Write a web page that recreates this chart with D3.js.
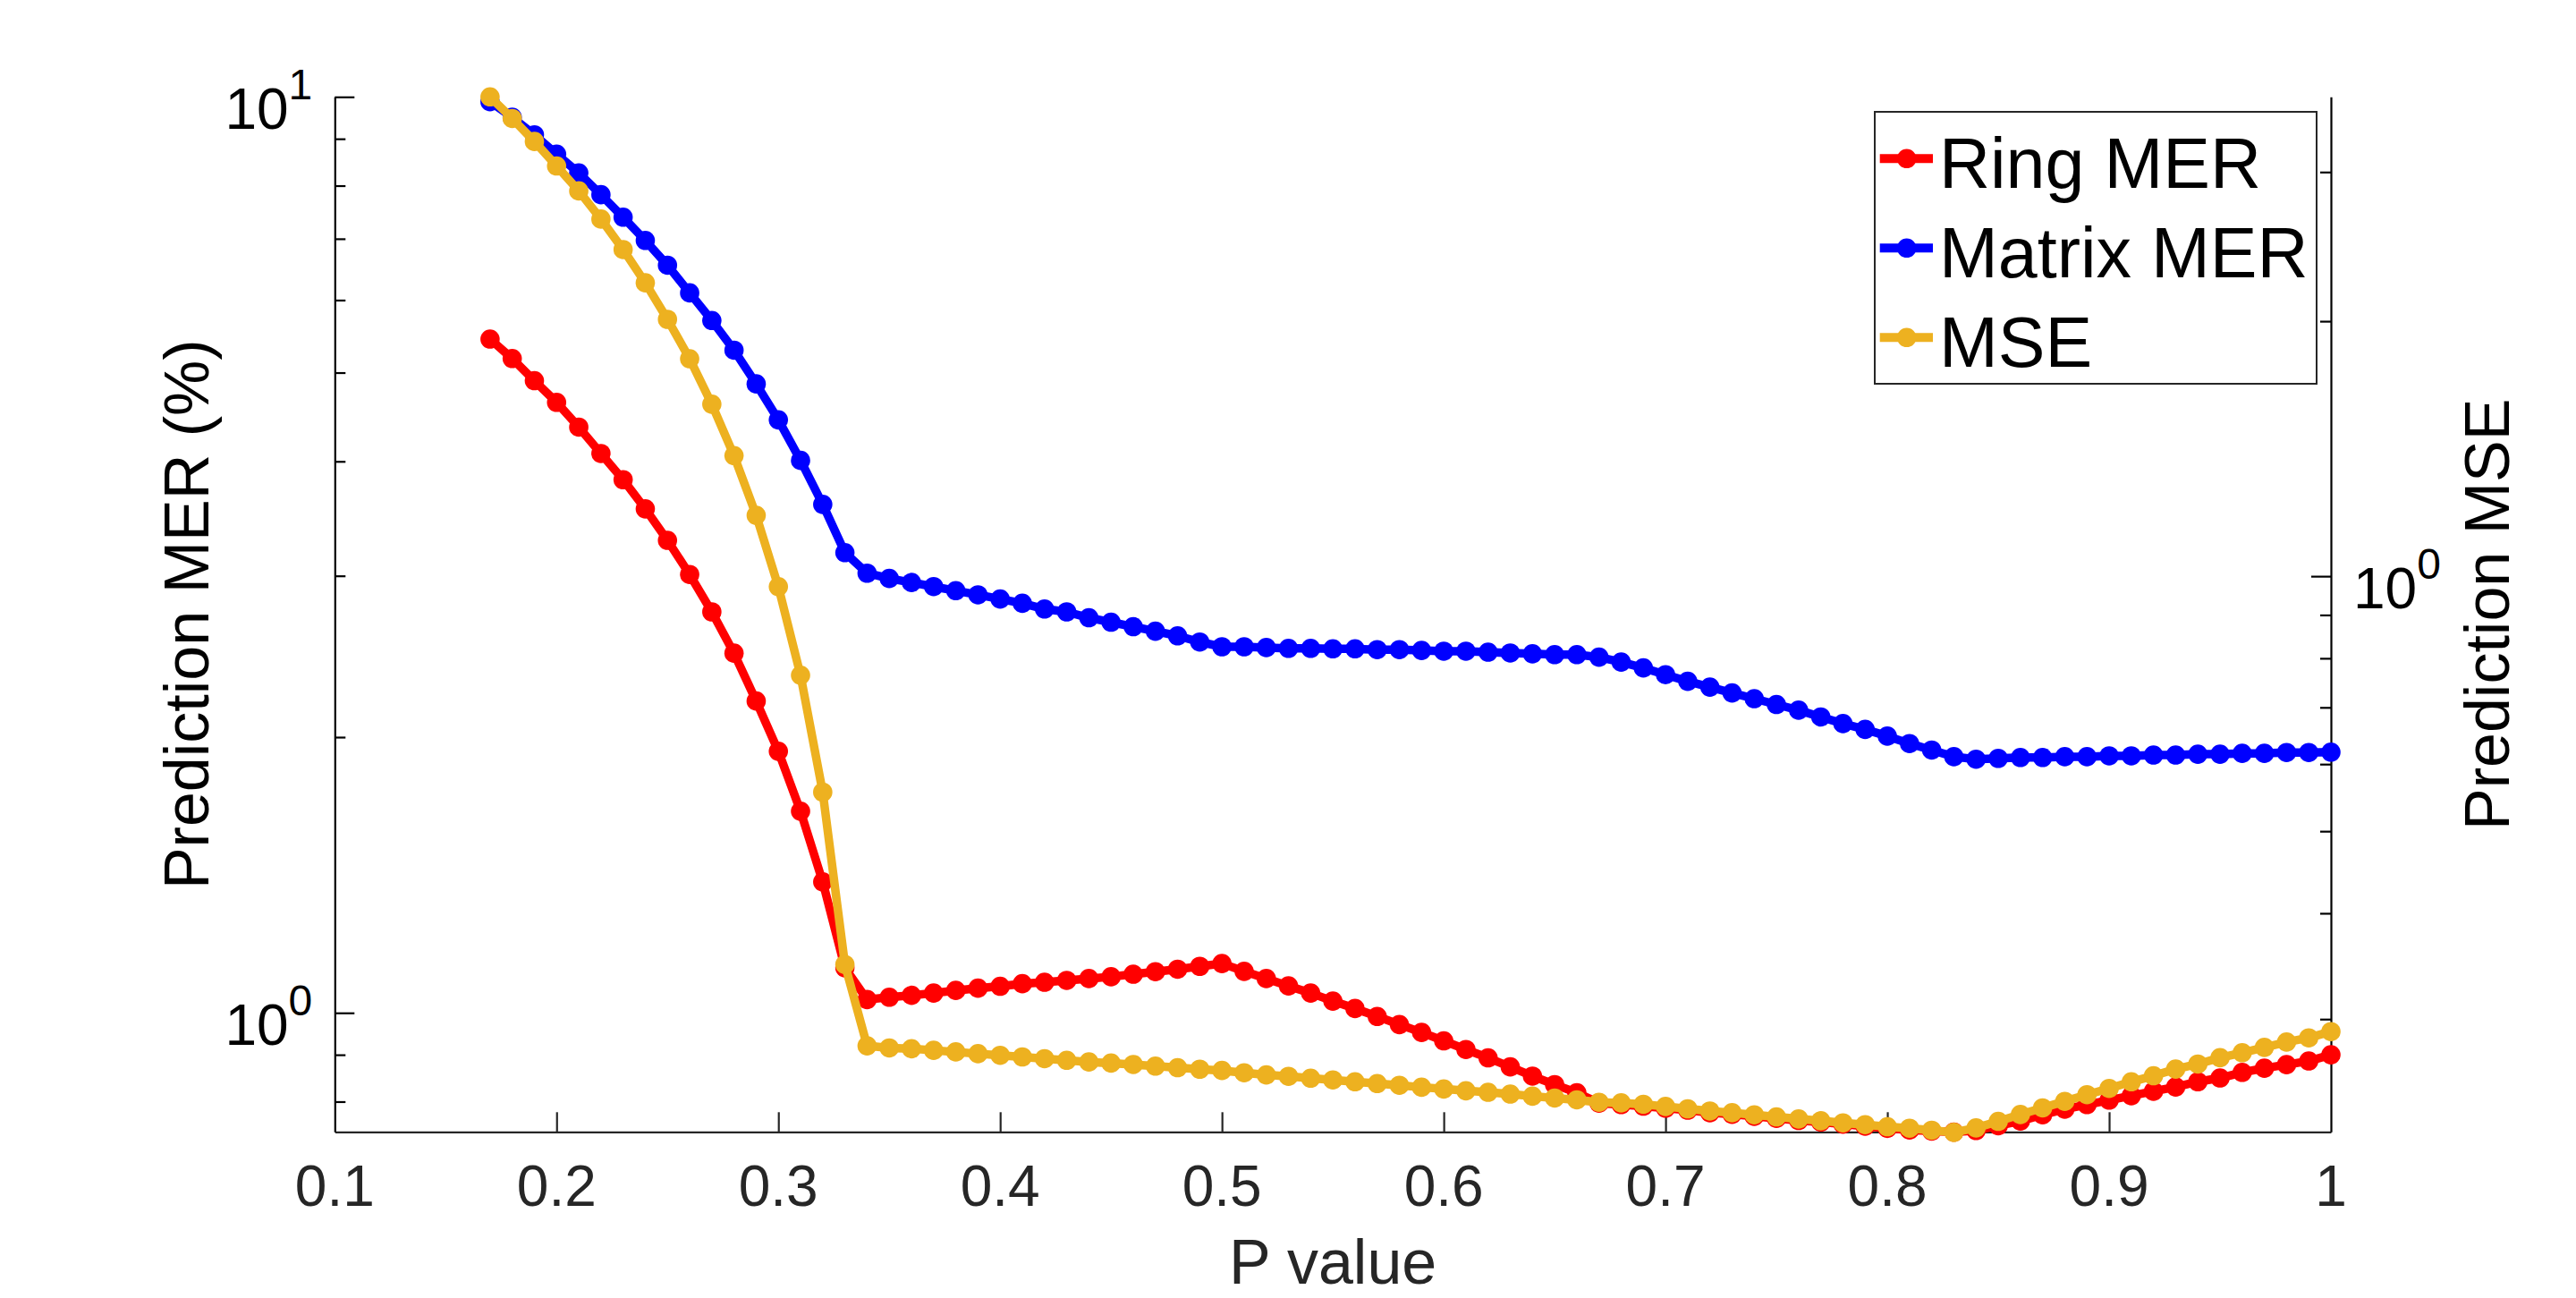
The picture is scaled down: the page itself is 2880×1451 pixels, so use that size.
<!DOCTYPE html>
<html>
<head>
<meta charset="utf-8">
<script src="https://cdn.jsdelivr.net/npm/d3@7/dist/d3.min.js"></script>
<style>
  html, body { margin: 0; padding: 0; background: #fff; }
  svg { display: block; }
  text { font-family: "Liberation Sans", Arial, Helvetica, sans-serif; }
</style>
</head>
<body>
<svg id="chart" width="2880" height="1451"></svg>
<script>
// ---------------- data ----------------
const pValues = [0.17,0.18,0.19,0.20,0.21,0.22,0.23,0.24,0.25,0.26,0.27,0.28,0.29,0.30,0.31,0.32,0.33,0.34,0.35,0.36,
  0.37,0.38,0.39,0.40,0.41,0.42,0.43,0.44,0.45,0.46,0.47,0.48,0.49,0.50,0.51,0.52,0.53,0.54,0.55,0.56,
  0.57,0.58,0.59,0.60,0.61,0.62,0.63,0.64,0.65,0.66,0.67,0.68,0.69,0.70,0.71,0.72,0.73,0.74,0.75,0.76,
  0.77,0.78,0.79,0.80,0.81,0.82,0.83,0.84,0.85,0.86,0.87,0.88,0.89,0.90,0.91,0.92,0.93,0.94,0.95,0.96,
  0.97,0.98,0.99,1.00];

const ringMER = [5.44,5.18,4.90,4.64,4.36,4.08,3.82,3.55,3.28,3.01,2.74,2.47,2.19,1.93,1.66,1.39,1.12,1.034,1.040,1.045,
  1.051,1.058,1.064,1.069,1.076,1.080,1.085,1.090,1.095,1.102,1.109,1.116,1.124,1.132,1.110,1.090,1.070,1.051,1.030,1.011,
  0.991,0.971,0.952,0.932,0.912,0.893,0.873,0.853,0.835,0.818,0.797,0.794,0.791,0.787,0.783,0.778,0.775,0.771,0.767,0.763,
  0.760,0.756,0.752,0.748,0.745,0.743,0.741,0.744,0.753,0.762,0.774,0.785,0.794,0.803,0.812,0.821,0.830,0.841,0.849,0.861,
  0.870,0.878,0.886,0.900];

const matrixMER = [9.88,9.50,9.09,8.66,8.26,7.82,7.39,6.97,6.55,6.11,5.70,5.29,4.86,4.44,4.01,3.59,3.18,3.02,2.98,2.95,
  2.92,2.89,2.86,2.83,2.80,2.76,2.74,2.70,2.67,2.64,2.61,2.58,2.54,2.51,2.51,2.505,2.50,2.50,2.497,2.497,
  2.492,2.492,2.487,2.482,2.482,2.476,2.471,2.466,2.461,2.461,2.445,2.415,2.380,2.340,2.301,2.268,2.235,2.203,2.171,2.140,
  2.104,2.069,2.039,2.005,1.968,1.936,1.904,1.892,1.896,1.900,1.900,1.904,1.904,1.908,1.908,1.912,1.912,1.916,1.916,1.920,
  1.920,1.924,1.924,1.926];

const mse = [3.68,3.47,3.26,3.05,2.85,2.64,2.43,2.22,2.01,1.806,1.596,1.388,1.180,0.972,0.764,0.556,0.348,0.279,0.2774,0.2768,
  0.2756,0.2744,0.2731,0.2719,0.2707,0.2694,0.2682,0.2670,0.2662,0.2652,0.2640,0.2629,0.2618,0.2609,0.2593,0.2578,0.2568,0.2555,0.2543,0.2530,
  0.2518,0.2506,0.2493,0.2481,0.2469,0.2459,0.2447,0.2433,0.2421,0.2409,0.2393,0.2389,0.2380,0.2366,0.2351,0.2337,0.2326,0.2313,0.2300,0.2287,
  0.2276,0.2263,0.2252,0.2239,0.2230,0.2218,0.2205,0.2232,0.2272,0.2315,0.2357,0.2399,0.2443,0.2485,0.2530,0.2572,0.2619,0.2655,0.2701,0.2738,
  0.2778,0.2819,0.2851,0.2900];

const xTicks = [0.1,0.2,0.3,0.4,0.5,0.6,0.7,0.8,0.9,1.0];
const xTickLabels = ["0.1","0.2","0.3","0.4","0.5","0.6","0.7","0.8","0.9","1"];
const leftMajor = [1, 10];
const leftMajorExp = ["0", "1"];
const leftMinor = [0.8, 0.9, 2, 3, 4, 5, 6, 7, 8, 9];
const rightMajor = [1];
const rightMajorExp = ["0"];
const rightMinor = [0.3, 0.4, 0.5, 0.6, 0.7, 0.8, 0.9, 2, 3];
const seriesNames = ["Ring MER", "Matrix MER", "MSE"];
const seriesColors = ["#FF0000", "#0000FF", "#EDB120"];

// ---------------- layout ----------------
const L = 374.3, R = 2606, T = 108.3, B = 1265.3;
const svg = d3.select("#chart");
svg.append("rect").attr("width", 2880).attr("height", 1451).attr("fill", "#fff");

const x = d3.scaleLinear().domain([0.1, 1.0]).range([L, R]);
const yL = d3.scaleLog().domain([0.7414, 10]).range([B, T]);
const yR = d3.scaleLog().domain([0.2208, 3.68]).range([B, T]);

const axisColor = "#262626";

function styleAxis(g, color) {
  g.selectAll("path.domain").attr("stroke", color).attr("stroke-width", 2.2);
  g.selectAll(".tick line").attr("stroke", color).attr("stroke-width", 2.2);
  g.selectAll(".tick text").remove();
}

// x axis
const gx = svg.append("g").attr("transform", `translate(0,${B})`)
  .call(d3.axisBottom(x).tickValues(xTicks).tickSize(-22).tickSizeOuter(0).tickFormat(""));
styleAxis(gx, axisColor);
gx.selectAll(".tick").filter(d => Math.abs(d - 0.1) < 1e-9 || Math.abs(d - 1) < 1e-9).select("line").remove();
svg.append("g").selectAll("text").data(xTicks).join("text")
  .attr("x", d => x(d)).attr("y", 1348)
  .attr("text-anchor", "middle").attr("font-size", 64).attr("fill", axisColor)
  .text((d, i) => xTickLabels[i]);

// left axis
const gl = svg.append("g").attr("transform", `translate(${L},0)`)
  .call(d3.axisLeft(yL).tickValues(leftMajor).tickSize(-22).tickSizeOuter(0).tickFormat(""));
styleAxis(gl, "#000");
const glm = svg.append("g").attr("transform", `translate(${L},0)`)
  .call(d3.axisLeft(yL).tickValues(leftMinor).tickSize(-12).tickSizeOuter(0).tickFormat(""));
styleAxis(glm, "#000");
glm.select("path.domain").remove();
leftMajor.forEach((v, i) => {
  const t = svg.append("text").attr("x", L - 25).attr("y", yL(v) + 36)
    .attr("text-anchor", "end").attr("font-size", 64).attr("fill", "#000");
  t.append("tspan").text("10");
  t.append("tspan").attr("font-size", 48).attr("dy", -33).text(leftMajorExp[i]);
});

// right axis
const gr = svg.append("g").attr("transform", `translate(${R},0)`)
  .call(d3.axisRight(yR).tickValues(rightMajor).tickSize(-22).tickSizeOuter(0).tickFormat(""));
styleAxis(gr, "#000");
const grm = svg.append("g").attr("transform", `translate(${R},0)`)
  .call(d3.axisRight(yR).tickValues(rightMinor).tickSize(-12).tickSizeOuter(0).tickFormat(""));
styleAxis(grm, "#000");
grm.select("path.domain").remove();
rightMajor.forEach((v, i) => {
  const t = svg.append("text").attr("x", R + 25).attr("y", yR(v) + 36)
    .attr("text-anchor", "start").attr("font-size", 64).attr("fill", "#000");
  t.append("tspan").text("10");
  t.append("tspan").attr("font-size", 48).attr("dy", -33).text(rightMajorExp[i]);
});

// axis labels
svg.append("text").attr("transform", `translate(233,${(T + B) / 2}) rotate(-90)`)
  .attr("text-anchor", "middle").attr("font-size", 70).attr("fill", "#000")
  .text("Prediction MER (%)");
svg.append("text").attr("transform", `translate(2805,${(T + B) / 2}) rotate(-90)`)
  .attr("text-anchor", "middle").attr("font-size", 70).attr("fill", "#000")
  .text("Prediction MSE");
svg.append("text").attr("x", (L + R) / 2).attr("y", 1435)
  .attr("text-anchor", "middle").attr("font-size", 70).attr("fill", axisColor)
  .text("P value");

// ---------------- series ----------------
const series = [
  { values: ringMER, scale: yL, color: seriesColors[0] },
  { values: matrixMER, scale: yL, color: seriesColors[1] },
  { values: mse, scale: yR, color: seriesColors[2] }
];
const LW = 9.5, MR = 10.8;
series.forEach(s => {
  const pts = pValues.map((p, i) => [p, s.values[i]]);
  const line = d3.line().x(d => x(d[0])).y(d => s.scale(d[1]));
  const g = svg.append("g");
  g.append("path").attr("d", line(pts)).attr("fill", "none")
    .attr("stroke", s.color).attr("stroke-width", LW).attr("stroke-linejoin", "round");
  g.selectAll("circle").data(pts).join("circle")
    .attr("cx", d => x(d[0])).attr("cy", d => s.scale(d[1])).attr("r", MR)
    .attr("fill", s.color);
});

// ---------------- legend ----------------
const lg = svg.append("g");
lg.append("rect").attr("x", 2096).attr("y", 125).attr("width", 494).attr("height", 304)
  .attr("fill", "#fff").attr("stroke", axisColor).attr("stroke-width", 2);
seriesNames.forEach((name, i) => {
  const cy = 177.3 + i * 100;
  lg.append("line").attr("x1", 2101.7).attr("x2", 2161).attr("y1", cy).attr("y2", cy)
    .attr("stroke", seriesColors[i]).attr("stroke-width", 10);
  lg.append("circle").attr("cx", 2131.7).attr("cy", cy).attr("r", MR).attr("fill", seriesColors[i]);
  lg.append("text").attr("x", 2168).attr("y", cy + 33).attr("font-size", 79).attr("fill", "#000").text(name);
});
</script>
</body>
</html>
